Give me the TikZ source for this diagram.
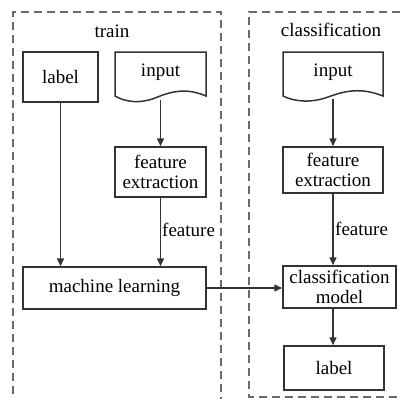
\documentclass[tikz,border=0pt]{standalone}
\usepackage{fontspec}
\setmainfont{Liberation Serif}
\usetikzlibrary{arrows.meta}
\definecolor{ln}{HTML}{333333}
\definecolor{dsh}{HTML}{6A6A6A}
\tikzset{
  fnt/.style={font=\fontsize{19}{20}\selectfont},
  box/.style={draw=ln, line width=1.5pt, fill=white, align=center, inner sep=0pt, fnt},
  doctext/.style={inner sep=0pt, fnt},
  group/.style={draw=dsh, line width=1.5pt, dash pattern=on 8pt off 5pt},
  arr/.style={draw=ln, line width=1.5pt, -{Triangle[length=8pt,width=7pt]}},
  ttl/.style={inner sep=0pt, fnt},
  lbl/.style={inner sep=0pt, fnt, anchor=west}
}
\begin{document}
\begin{tikzpicture}[x=1pt,y=-1pt]
\useasboundingbox (0,0) rectangle (400,399);
\clip (0,0) rectangle (400,399);
% groups
\draw[group] (13,420) -- (13,12) -- (221,12) -- (221,420);
\draw[group] (410,397) -- (249,397) -- (249,12) -- (410,12);
\node[ttl] (t1) at (112,31) {train};
\node[ttl] (t2) at (331,30) {classification};
% train column
\node[box, minimum width=75pt, minimum height=50pt] (lab1) at (60.5,77) {label};
\node[doctext] (in1) at (160.5,72) {input};
\coordinate (in1b) at (160.5,100);
\draw[ln, line width=1.5pt, fill=white] (115,52) -- (206,52) -- (206,96)
  .. controls (185,87) and (170,92) .. (155,98)
  .. controls (140,104) and (125,102) .. (115,96) -- cycle;
\node[doctext] at (in1) {input};
\node[box, minimum width=91pt, minimum height=50pt] (fe1) at (160.5,172) {feature\\extraction};
\node[box, minimum width=183pt, minimum height=42pt] (ml) at (114.5,288) {machine learning};
% classification column
\node[doctext] (in2) at (333,72) {input};
\coordinate (in2b) at (333,99);
\draw[ln, line width=1.5pt, fill=white] (283,52) -- (383,52) -- (383,96)
  .. controls (360,87) and (345,91) .. (328,97)
  .. controls (312,103) and (295,102) .. (283,96) -- cycle;
\node[doctext] at (in2) {input};
\node[box, minimum width=100pt, minimum height=46pt] (fe2) at (333,170) {feature\\extraction};
\node[box, minimum width=113pt, minimum height=42pt] (cm) at (339.5,287) {classification\\model};
\node[box, minimum width=100pt, minimum height=44pt] (lab2) at (334,368) {label};
% arrows
\draw[arr] (lab1.south) -- (lab1.south |- ml.north);
\draw[arr] (in1b) -- (fe1.north);
\draw[arr] (fe1.south) -- (fe1.south |- ml.north);
\draw[arr] (ml.east) -- (ml.east -| cm.west);
\draw[arr] (in2b) -- (fe2.north);
\draw[arr] (fe2.south) -- (fe2.south |- cm.north);
\draw[arr] (cm.south -| fe2.south) -- (lab2.north -| fe2.south);
\node[lbl] (f1) at (162,230) {feature};
\node[lbl] (f2) at (335,229) {feature};
\end{tikzpicture}
\end{document}
